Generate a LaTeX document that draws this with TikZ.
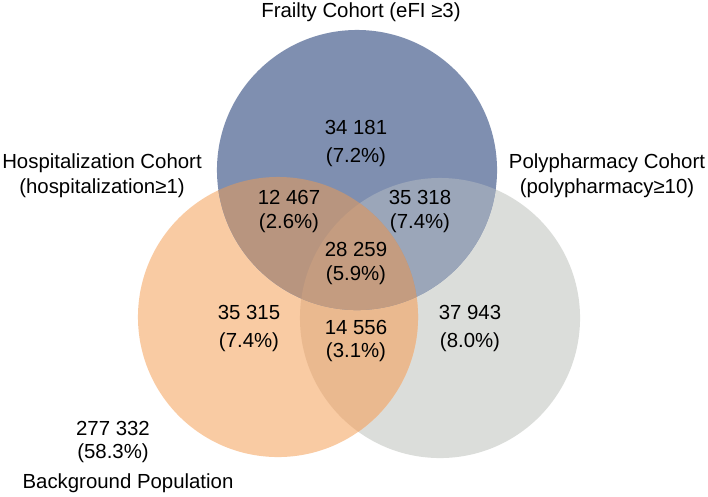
\documentclass[tikz,border=0pt]{standalone}
\usepackage{fontspec}
\setmainfont{Liberation Sans}
\definecolor{frailblue}{HTML}{7F8FB0}
\definecolor{hosporange}{HTML}{F9CBA3}
\definecolor{polygray}{HTML}{DBDDDA}
\definecolor{fhmix}{HTML}{B8957F}
\definecolor{fpmix}{HTML}{9BA6B9}
\definecolor{hpmix}{HTML}{EAB98F}
\definecolor{allmix}{HTML}{C49C80}
\begin{document}
\begin{tikzpicture}[x=0.025cm,y=-0.025cm,
    lbl/.style={font=\fontsize{14.5}{17}\selectfont, inner sep=0pt},
    rad/.style={radius=3.5cm}]
  \useasboundingbox (0,0) rectangle (708,496);
  % set centres
  \coordinate (frail) at (357,170);
  \coordinate (hosp) at (278,317);
  \coordinate (poly) at (440,318);
  % plain discs
  \fill[polygray] (poly) circle[rad];
  \fill[hosporange] (hosp) circle[rad];
  \fill[frailblue] (frail) circle[rad];
  % overlaps
  \begin{scope}
    \clip (hosp) circle[rad];
    \fill[hpmix] (poly) circle[rad];
  \end{scope}
  \begin{scope}
    \clip (frail) circle[rad];
    \fill[fpmix] (poly) circle[rad];
  \end{scope}
  \begin{scope}
    \clip (frail) circle[rad];
    \fill[fhmix] (hosp) circle[rad];
  \end{scope}
  \begin{scope}
    \clip (frail) circle[rad]; \clip (hosp) circle[rad];
    \fill[allmix] (poly) circle[rad];
  \end{scope}
  % cohort labels
  \node[lbl] (frailT) at (361,12) {Frailty Cohort (eFI ≥3)};
  \node[lbl] (hospT) at (102,163) {Hospitalization Cohort};
  \node[lbl] (hospS) at (102,188) {(hospitalization≥1)};
  \node[lbl] (polyT) at (607,163) {Polypharmacy Cohort};
  \node[lbl] (polyS) at (607,188) {(polypharmacy≥10)};
  \node[lbl] (backT) at (128,483) {Background Population};
  % counts and shares
  \foreach \n/\x/\ya/\yb/\c/\p in {fo/356/127/157/34 181/7.2,
      fh/289/197/223/12 467/2.6, fp/420/197/223/35 318/7.4,
      fhp/356/249/275/28 259/5.9, ho/249/312/342/35 315/7.4,
      hp/356/327/352/14 556/3.1, po/470/312/342/37 943/8.0,
      bg/113/428/453/277 332/58.3} {
    \node[lbl] (\n) at (\x,\ya) {\c};
    \node[lbl] (\n p) at (\x,\yb) {(\p\%)};
  }
\end{tikzpicture}
\end{document}
